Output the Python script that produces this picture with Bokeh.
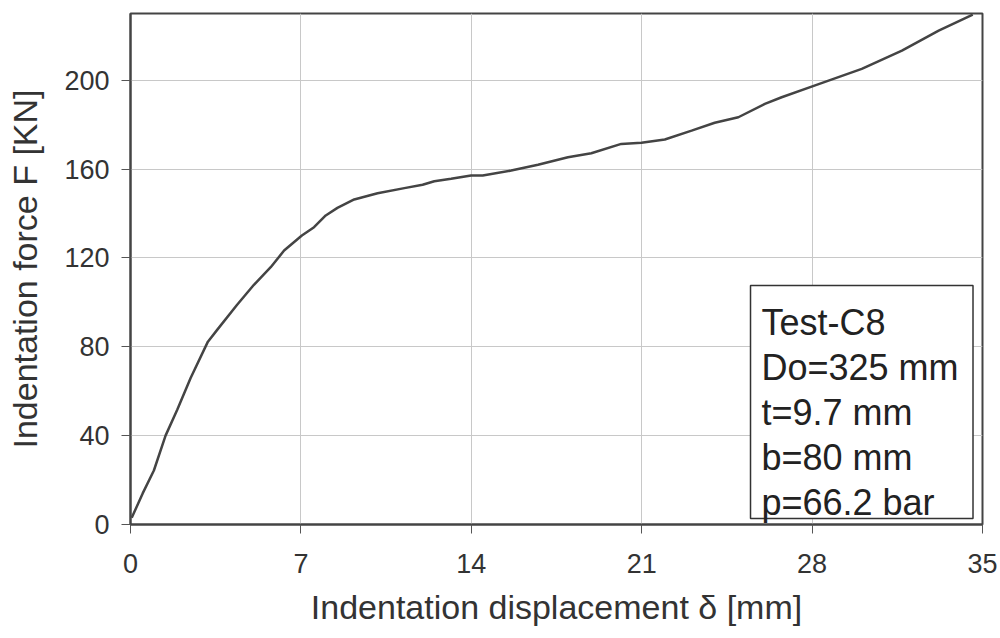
from bokeh.plotting import figure
from bokeh.models import ColumnDataSource, BoxAnnotation, Range1d, FixedTicker
from bokeh.core.properties import value
from bokeh.embed import file_html
from bokeh.resources import INLINE

# Data
displacement = [0.05, 0.5, 0.96, 1.44, 1.92, 2.47, 3.18, 3.56, 4.38, 5.07, 5.76, 6.31,
                7.04, 7.54, 8.02, 8.5, 9.19, 10.15, 11.25, 12.0, 12.48, 13.17, 13.99,
                14.47, 15.64, 16.74, 17.97, 18.93, 20.16, 20.99, 21.95, 23.05, 24.0,
                24.97, 26.06, 26.75, 27.98, 30.04, 31.69, 33.2, 34.6]
force = [3.0, 14.0, 24.3, 40.0, 51.6, 65.9, 82.3, 87.6, 98.9, 107.9, 115.8, 123.3,
         130.1, 133.8, 139.1, 142.5, 146.3, 149.1, 151.4, 152.9, 154.5, 155.6, 157.1,
         157.1, 159.3, 161.9, 165.3, 167.1, 171.3, 171.8, 173.3, 177.3, 180.8,
         183.3, 189.3, 192.3, 197.1, 205.1, 213.3, 222.3, 229.5]
x_ticks = [0, 7, 14, 21, 28, 35]
y_ticks = [0, 40, 80, 120, 160, 200]
info_lines = ["Test-C8", "Do=325 mm", "t=9.7 mm", "b=80 mm", "p=66.2 bar"]

FONT = "Liberation Sans"
TXT = "#333333"

p = figure(width=1000, height=638, output_backend="svg", toolbar_location=None,
           x_range=Range1d(0, 35), y_range=Range1d(0, 230),
           min_border_left=130, min_border_right=18, min_border_top=13,
           min_border_bottom=114)

p.background_fill_color = "white"
p.border_fill_color = "white"
p.outline_line_color = "#444444"
p.outline_line_width = 2

p.xaxis.ticker = FixedTicker(ticks=x_ticks)
p.yaxis.ticker = FixedTicker(ticks=y_ticks)
for ax in (p.xaxis, p.yaxis):
    ax.minor_tick_line_color = None
    ax.major_tick_in = 0
    ax.major_tick_out = 9
    ax.major_tick_line_color = "#555555"
    ax.axis_line_color = "#444444"
    ax.axis_line_width = 2
    ax.major_label_text_font = FONT
    ax.major_label_text_font_size = "27px"
    ax.major_label_text_color = TXT
    ax.axis_label_text_font = FONT
    ax.axis_label_text_font_size = "34px"
    ax.axis_label_text_font_style = "normal"
    ax.axis_label_text_color = TXT

p.xaxis.axis_label = "Indentation displacement δ [mm]"
p.yaxis.axis_label = "Indentation force F [KN]"
p.xaxis.major_label_standoff = 20
p.yaxis.major_label_standoff = 12
p.xaxis.axis_label_standoff = 12
p.yaxis.axis_label_standoff = 17

p.xgrid.ticker = FixedTicker(ticks=x_ticks)
p.ygrid.ticker = FixedTicker(ticks=y_ticks)
p.grid.grid_line_color = "#c8c8c8"
p.grid.grid_line_width = 1

src = ColumnDataSource(dict(x=displacement, y=force))
p.line("x", "y", source=src, line_color="#444444", line_width=2.5)

# Info box
p.add_layout(BoxAnnotation(left=25.47, right=34.61, bottom=2.7, top=107.6,
                           fill_color="white", fill_alpha=1.0,
                           line_color="#333333", line_alpha=1.0, line_width=1.5))
ys = [90.9 - i * 20.25 for i in range(len(info_lines))]
tsrc = ColumnDataSource(dict(x=[25.92] * len(info_lines), y=ys, t=info_lines))
p.text("x", "y", text="t", source=tsrc, text_font=value(FONT),
       text_font_size="36px", text_color="#222222", text_baseline="alphabetic",
       text_align="left", level="overlay")

open("out.html", "w").write(file_html(p, INLINE))
